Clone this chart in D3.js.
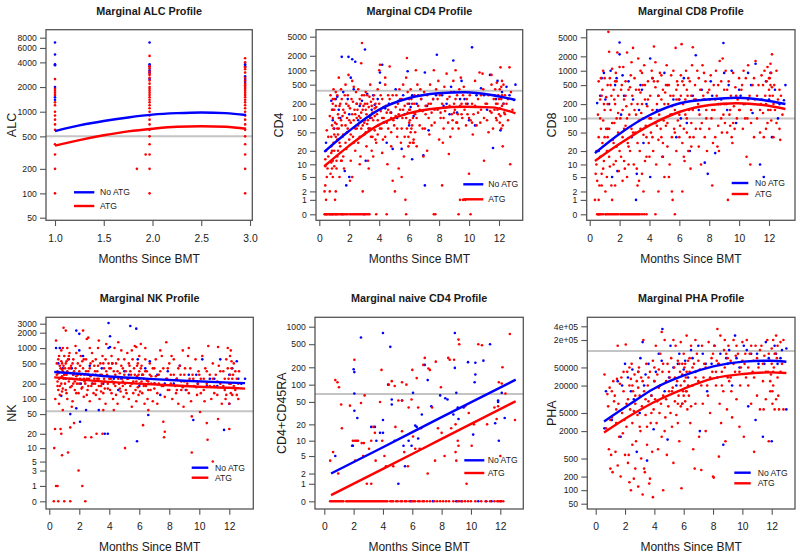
<!DOCTYPE html>
<html><head><meta charset="utf-8">
<script src="https://cdn.jsdelivr.net/npm/d3@7"></script>
<style>body{margin:0;background:#fff}svg{display:block}text{font-family:"Liberation Sans",Arial,Helvetica,sans-serif}</style>
</head><body><svg id="c" width="800" height="556"></svg>
<script>
// ---------- tick definitions ----------
const monthTicks=[0,2,4,6,8,10,12];
const alcXTicks=[1.0,1.5,2.0,2.5,3.0];
const alcYTicks=[50,100,200,500,1000,2000,4000,6000,8000];
const cd4YTicks=[0,1,2,5,10,20,50,100,200,500,1000,2000,5000];
const cd8YTicks=[0,1,2,5,10,20,50,100,200,500,1000,2000,5000];
const nkYTicks=[0,1,3,5,10,20,50,100,200,500,1000,2000,3000];
const naiveYTicks=[0,1,2,5,10,20,50,100,200,500,1000];
const phaYTicks=[50,100,200,500,2000,5000,20000,50000,200000,400000];
const phaYTickLabels=["50","100","200","500","2000","5000","20000","50000","2e+05","4e+05"];
const legendLabels=["No ATG","ATG"];
const titles=["Marginal ALC Profile","Marginal CD4 Profile","Marginal CD8 Profile","Marginal NK Profile","Marginal naive CD4 Profile","Marginal PHA Profile"];
const yLabels=["ALC","CD4","CD8","NK","CD4+CD45RA","PHA"];
const xLabel="Months Since BMT";
const refValues=[500,375,100,57,69,115000];

// ---------- ALC ----------
const alcBlue=[[1.0,7000],[1.0,5000],[1.0,3800],[1.0,3700],[1.0,2000],[1.0,1500],[1.0,1400],
[1.97,7000],[1.97,3800],[1.97,3600],[1.97,3200],[1.97,3000],[1.97,2500],
[2.95,3800],[2.95,3600],[2.95,2700],[2.95,2500],[2.95,2300]];
const alcRed=[[1.0,2500],[1.0,1900],[1.0,1800],[1.0,1700],[1.0,1600],[1.0,1300],[1.0,1200],[1.0,1000],[1.0,900],[1.0,800],[1.0,700],[1.0,600],[1.0,400],[1.0,300],[1.0,200],[1.0,100],
[1.97,4800],[1.97,3600],[1.97,3400],[1.97,3100],[1.97,2900],[1.97,2800],[1.97,2600],[1.97,2400],[1.97,2200],[1.97,2000],[1.97,1900],[1.97,1800],[1.97,1700],[1.97,1600],[1.97,1500],[1.97,1400],[1.97,1300],[1.97,1200],[1.97,1100],[1.97,1000],[1.97,900],[1.97,800],[1.97,700],[1.97,600],[1.97,500],[1.97,400],[1.97,300],[1.97,200],[1.97,100],[1.84,200],[1.93,300],
[2.95,4500],[2.95,4000],[2.95,3500],[2.95,3300],[2.95,3000],[2.95,2600],[2.95,2400],[2.95,2200],[2.95,2100],[2.95,2000],[2.95,1900],[2.95,1800],[2.95,1700],[2.95,1600],[2.95,1500],[2.95,1400],[2.95,1300],[2.95,1200],[2.95,1100],[2.95,1000],[2.95,900],[2.95,800],[2.95,700],[2.95,600],[2.95,500],[2.95,400],[2.95,300],[2.95,200],[2.95,100]];
const alcBlueFit=[[1.0,580],[1.25,680],[1.5,770],[1.75,850],[2.0,920],[2.25,960],[2.5,980],[2.75,960],[2.96,910]];
const alcRedFit=[[1.0,385],[1.25,450],[1.5,515],[1.75,575],[2.0,620],[2.25,655],[2.5,665],[2.75,655],[2.96,620]];

// ---------- CD4 ----------
const cd4Blue=[[0.45,30],[0.8,230],[0.9,90],[1.0,60],[1.1,250],[1.2,280],[1.3,150],[1.5,1900],[1.5,0],[1.6,350],[1.7,7],[1.8,3],[1.95,1900],[2.0,5],[2.0,120],[2.1,700],[2.2,1700],[2.3,400],[2.4,1500],[2.5,200],[2.6,90],[2.85,230],[3.0,0],[3.05,2700],[3.1,12],[3.2,320],[3.3,60],[3.5,150],[3.7,190],[3.9,250],[4.05,900],[4.05,550],[4.2,1300],[4.3,80],[4.5,30],[4.65,200],[4.9,22],[5.1,400],[5.3,230],[5.5,22],[5.7,120],[5.9,950],[6.0,70],[6.1,170],[6.2,13],[6.2,300],[6.5,200],[6.95,16],[7.05,3],[7.05,900],[7.3,55],[7.6,250],[7.85,2100],[8.2,300],[8.5,200],[8.8,450],[8.95,1600],[9.2,130],[9.5,600],[9.7,250],[10.0,90],[10.2,3000],[10.4,70],[10.8,420],[11.0,300],[11.4,800],[11.6,23],[11.9,600],[12.1,55],[12.2,350],[12.5,450],[13.1,500],[13.0,240]];
const cd4BlueMore=[[0.9,150],[1.4,100],[1.9,250],[2.7,180],[3.4,100],[3.6,300],[4.4,160],[4.8,130],[5.2,100],[5.6,300],[6.0,200],[6.3,110],[6.8,250],[7.2,180],[7.8,300],[8.3,180],[8.7,120],[9.0,350],[9.4,250],[9.9,200],[10.5,300],[11.2,150],[11.8,250],[12.3,200],[12.7,300]];
const cd4Red=[[0.35,0],[0.4,0],[0.45,0],[0.5,0],[0.55,0],[0.35,2],[0.4,3],[0.45,1],[0.5,5],[0.4,13],[0.45,20],[0.5,55],[0.55,8],[0.6,40],[0.4,9],[0.6,15],
[0.65,0],[0.7,0],[0.75,0],[0.8,0],[0.85,0],[0.9,0],[0.95,0],[0.7,2],[0.75,6],[0.8,11],[0.8,25],[0.85,70],[0.85,150],[0.9,200],[0.9,5],[0.95,30],[0.7,110],[0.75,300],[0.8,18],[0.9,12],[0.95,400],[1.0,9],[1.0,45],[1.0,250],
[1.05,0],[1.1,0],[1.15,0],[1.2,0],[1.3,0],[1.4,0],[1.05,1],[1.1,2],[1.15,8],[1.2,15],[1.2,35],[1.25,120],[1.3,700],[1.3,60],[1.35,180],[1.35,5],[1.4,25],[1.45,90],[1.45,400],[1.5,12],[1.5,250],[1.1,350],[1.15,75],[1.25,20],
[1.55,0],[1.6,0],[1.7,0],[1.8,0],[1.9,0],[1.55,40],[1.6,150],[1.65,8],[1.7,300],[1.75,500],[1.8,22],[1.85,100],[1.9,60],[1.95,800],[1.95,180],[2.0,35],[1.6,15],[1.75,70],
[2.05,0],[2.15,0],[2.25,0],[2.35,0],[2.45,0],[2.05,4],[2.1,12],[2.15,250],[2.2,600],[2.25,40],[2.3,90],[2.35,150],[2.4,20],[2.45,350],[2.5,60],[2.2,5],[2.3,450],[2.4,120],[2.1,80],[2.5,200],
[2.55,0],[2.65,0],[2.75,0],[2.85,0],[2.95,0],[2.6,30],[2.65,110],[2.7,250],[2.75,15],[2.8,1400],[2.85,3700],[2.9,2],[2.9,70],[2.95,180],[3.0,45],[2.6,400],[2.7,10],[2.8,130],[3.0,300],[2.75,200],
[3.05,0],[3.15,0],[3.25,0],[3.35,0],[3.05,90],[3.1,150],[3.15,25],[3.2,200],[3.25,12],[3.3,60],[3.35,280],[3.4,110],[3.45,40],[3.5,180],[3.1,350],[3.2,75],[3.3,8],[3.4,500],[3.5,20],
[3.8,0],[3.55,130],[3.6,90],[3.65,300],[3.7,55],[3.75,200],[3.8,30],[3.85,120],[3.9,400],[3.95,70],[4.0,1000],[3.6,15],[3.7,160],[3.9,45],
[4.5,0],[4.05,1300],[4.1,140],[4.15,60],[4.2,250],[4.25,35],[4.3,100],[4.4,500],[4.45,180],[4.5,80],[4.55,10],[4.6,300],[4.7,1200],[4.75,130],[4.8,50],[4.85,200],[4.9,4],[4.95,90],[4.2,18],[4.4,700],[4.6,150],[4.8,25],
[5.8,0],[5.05,2],[5.1,110],[5.15,300],[5.2,60],[5.3,8],[5.35,400],[5.4,150],[5.45,30],[5.5,250],[5.55,100],[5.6,500],[5.65,15],[5.7,180],[5.75,1],[5.8,700],[5.85,1800],[5.9,130],[5.95,40],[6.0,250],[5.25,200],[5.5,5],[5.9,350],[6.0,80],
[6.05,30],[6.05,150],[6.1,400],[6.15,60],[6.2,200],[6.25,100],[6.3,35],[6.35,300],[6.4,120],[6.5,25],[6.55,500],[6.6,180],[6.7,70],[6.8,250],[6.9,140],[6.95,15],[7.0,350],[6.3,30],[6.45,1000],[6.75,400],
[7.65,0],[7.75,0],[7.05,60],[7.1,180],[7.2,300],[7.3,100],[7.35,45],[7.4,500],[7.5,130],[7.6,250],[7.65,1000],[7.7,80],[7.8,400],[7.9,150],[8.0,35],[7.2,20],[7.45,200],[7.95,600],
[8.05,300],[8.1,100],[8.2,3],[8.2,200],[8.3,60],[8.35,450],[8.4,140],[8.5,850],[8.55,250],[8.6,80],[8.65,17],[8.7,180],[8.8,350],[8.85,120],[8.9,60],[8.95,600],[9.0,200],[8.25,30],[8.75,40],
[9.3,0],[9.05,150],[9.1,1000],[9.15,80],[9.2,300],[9.25,120],[9.3,60],[9.35,400],[9.4,1],[9.5,200],[9.55,100],[9.6,1],[9.65,450],[9.7,150],[9.8,70],[9.85,250],[9.9,120],[10.0,6],[9.45,700],[9.75,1],
[10.1,0],[10.05,300],[10.1,90],[10.2,200],[10.3,120],[10.4,600],[10.5,70],[10.6,250],[10.7,900],[10.8,150],[10.9,850],[11.0,12],[10.25,45],[10.75,80],[10.95,400],
[11.1,200],[11.2,90],[11.3,300],[11.4,140],[11.5,500],[11.6,60],[11.65,250],[11.7,150],[11.75,400],[11.8,100],[11.85,550],[11.9,200],[11.95,300],[12.0,120],[11.5,800],[11.3,50],
[12.05,400],[12.1,1150],[12.15,250],[12.2,180],[12.25,25],[12.3,500],[12.35,130],[12.4,300],[12.5,200],[12.6,90],[12.7,1150],[12.75,10],[12.8,350],[12.05,80],[12.2,600],[12.15,60]];
const cd4RedMore=[[0.8,40],[0.85,20],[0.9,100],[0.95,60],[0.85,8],[0.9,250],[1.0,150],[1.0,20],[1.05,80],[1.1,40],[1.1,180],[1.15,12],[1.2,60],[1.2,300],[1.25,45],[1.3,100],[1.35,30],[1.4,200],[1.45,12],[1.5,70],[1.55,110],[1.6,45],[1.7,130],[1.75,30],[1.8,200],[1.85,50],[1.9,300],[2.0,90],[2.05,160],[2.1,45],[2.2,120],[2.25,220],[2.3,30],[2.4,60],[2.5,100],[2.55,150],[2.6,70],[2.7,40],[2.75,100],[2.8,60],[2.85,300],[2.9,150],[3.0,80],[3.05,200],[3.1,50],[3.15,120],[3.2,300],[3.25,90],[3.3,170],[3.4,60],[3.45,220],[3.5,100],[3.55,40],[3.6,250],[3.7,110],[3.75,35],[3.8,170],[3.9,90],[4.0,200],[4.05,60],[4.1,300],[4.2,100],[4.3,170],[4.4,40],[4.5,130],[4.6,60],[4.7,250],[4.8,100],[4.9,300],[5.0,70],[5.1,170],[5.2,40],[5.3,120],[5.4,250],[5.5,60],[5.6,150],[5.7,40],[5.8,100],[5.85,60],[5.9,200],[5.95,25],[6.0,150],[6.05,90],[6.1,50],[6.15,250],[6.2,70],[6.25,30],[6.3,130],[6.35,200],[6.4,50],[6.5,100],[6.6,300],[6.7,150],[6.9,60],[7.1,120],[7.3,200],[7.5,70],[7.7,150],[7.9,250],[8.1,130],[8.3,100],[8.5,170],[8.7,280],[8.9,90],[9.0,130],[9.1,250],[9.2,80],[9.4,180],[9.5,120],[9.6,300],[9.8,200],[10.0,100],[10.2,80],[10.4,180],[10.6,130],[10.8,300],[11.0,100],[11.2,200],[11.5,130],[11.7,300],[11.8,200],[11.85,90],[11.9,150],[12.0,250],[12.05,160],[12.1,110],[12.15,450],[12.2,300],[12.25,70],[12.3,200],[12.4,120],[12.6,250],[12.9,150]];
const cd4BlueFit=[[0.33,19],[1.94,52],[3.94,147],[5.95,260],[7.95,330],[9.73,347],[11.5,305],[13.1,240]];
const cd4RedFit=[[0.33,9],[1.94,25],[3.94,71],[5.95,126],[7.95,161],[9.73,173],[11.5,168],[13.1,126]];

// ---------- CD8 ----------
const cd8Blue=[[0.5,210],[0.6,20],[0.8,700],[0.95,900],[1.05,250],[1.2,60],[1.3,200],[1.5,5],[1.7,500],[1.8,700],[1.85,7],[2.0,3900],[2.0,2200],[2.1,120],[2.3,300],[2.6,600],[2.8,40],[3.1,1],[3.15,6],[3.3,150],[3.5,400],[3.6,30],[3.8,200],[4.05,1800],[4.05,5],[4.2,700],[4.4,80],[4.6,300],[4.9,15],[5.2,500],[5.5,120],[5.8,40],[6.0,250],[6.3,700],[6.5,80],[6.7,20],[7.1,2100],[7.3,150],[7.5,400],[7.7,11],[7.9,6],[8.2,300],[8.4,18],[8.6,200],[8.95,3800],[9.0,900],[9.2,150],[9.5,1000],[9.8,80],[10.0,400],[10.3,200],[10.6,900],[10.9,130],[11.1,1400],[11.4,10],[11.65,5],[11.8,600],[12.0,250],[12.2,40],[12.4,400],[12.7,200],[13.1,500],[13.0,240]];
const cd8BlueMore=[[0.7,300],[1.4,1000],[2.2,800],[2.9,250],[3.4,500],[4.5,150],[5.0,900],[5.6,250],[6.1,100],[6.9,300],[7.7,250],[8.1,600],[8.8,250],[9.3,500],[10.1,300],[10.8,500],[11.5,250],[12.1,900],[12.6,100]];
const cd8Red=[[0.35,1],[0.4,6],[0.45,20],[0.5,0],[0.55,0],[0.6,0],[0.65,0],[0.7,0],[0.8,0],[0.9,0],[0.5,4],[0.55,120],[0.6,600],[0.65,3],[0.7,15],[0.7,250],[0.75,60],[0.8,6],[0.85,400],[0.85,30],[0.9,1000],[0.9,90],[0.95,12],[0.95,200],[1.0,40],[0.45,10],[0.6,1],[0.8,3],[0.75,700],
[1.05,0],[1.1,0],[1.2,0],[1.3,0],[1.4,0],[1.5,0],[1.6,0],[1.7,0],[1.8,0],[1.9,0],[1.05,2],[1.1,280],[1.15,20],[1.2,500],[1.25,6500],[1.3,60],[1.3,2500],[1.35,9],[1.4,150],[1.45,300],[1.5,1],[1.5,1100],[1.55,35],[1.6,400],[1.65,80],[1.7,3],[1.7,200],[1.75,12],[1.8,600],[1.85,2400],[1.9,50],[1.9,130],[1.95,7],[2.0,1200],[1.2,40],[1.35,700],[1.6,10],[1.8,25],[1.45,3],[1.15,5],[1.65,250],[1.75,900],
[2.05,0],[2.15,0],[2.25,0],[2.35,0],[2.45,0],[2.55,0],[2.65,0],[2.75,0],[2.85,0],[2.95,0],[2.05,100],[2.1,15],[2.15,500],[2.2,40],[2.25,1200],[2.3,250],[2.35,8],[2.4,70],[2.45,180],[2.5,2400],[2.55,30],[2.6,400],[2.65,120],[2.7,20],[2.75,800],[2.8,60],[2.85,300],[2.9,3000],[2.95,10],[3.0,150],[2.2,4],[2.4,600],[2.6,25],[2.8,1500],[2.5,5],[2.3,12],
[3.05,0],[3.15,0],[3.25,0],[3.35,0],[3.5,0],[3.65,0],[3.8,0],[3.05,50],[3.1,400],[3.15,8],[3.2,200],[3.25,1800],[3.3,90],[3.35,20],[3.4,350],[3.45,130],[3.5,6],[3.55,500],[3.6,45],[3.65,1300],[3.7,250],[3.75,70],[3.8,15],[3.85,180],[3.9,600],[3.95,30],[4.0,100],[3.3,4],[3.5,900],[3.7,12],[3.4,1000],[3.6,2],[3.2,3],
[4.4,0],[4.05,300],[4.1,50],[4.15,1000],[4.2,150],[4.25,20],[4.3,3200],[4.35,80],[4.4,450],[4.45,10],[4.5,200],[4.55,600],[4.6,35],[4.65,120],[4.7,900],[4.75,60],[4.8,250],[4.85,15],[4.9,400],[4.95,90],[5.0,5],[4.2,700],[4.6,2],[4.8,40],[4.4,1500],
[5.7,0],[5.05,350],[5.1,70],[5.15,1300],[5.2,25],[5.25,200],[5.3,500],[5.35,10],[5.4,120],[5.45,800],[5.5,40],[5.55,1],[5.6,300],[5.65,60],[5.7,150],[5.75,3000],[5.8,20],[5.85,600],[5.9,90],[5.95,250],[6.0,40],[5.3,5],[5.6,1000],[5.8,400],[5.5,2],
[6.05,70],[6.1,800],[6.15,3600],[6.2,30],[6.25,200],[6.3,500],[6.35,12],[6.4,120],[6.45,1000],[6.5,50],[6.55,300],[6.6,20],[6.65,150],[6.7,600],[6.75,8],[6.8,80],[6.85,1300],[6.9,3100],[6.95,40],[7.0,250],[6.2,2],[6.5,400],[6.8,25],[6.3,60],
[7.05,500],[7.1,60],[7.2,1000],[7.25,200],[7.3,25],[7.35,120],[7.4,400],[7.5,80],[7.55,1300],[7.6,250],[7.7,40],[7.75,600],[7.8,150],[7.85,20],[7.9,350],[8.0,60],[7.45,10],[7.65,900],
[8.05,250],[8.1,800],[8.15,100],[8.2,3],[8.25,30],[8.3,500],[8.35,150],[8.4,40],[8.45,1000],[8.5,300],[8.6,70],[8.65,20],[8.7,1600],[8.75,200],[8.8,600],[8.85,50],[8.9,1800],[8.95,120],[9.0,400],[8.55,25],
[9.05,80],[9.1,1000],[9.15,200],[9.2,50],[9.25,1],[9.3,600],[9.35,120],[9.4,70],[9.45,300],[9.5,40],[9.6,900],[9.65,180],[9.7,60],[9.75,450],[9.85,100],[9.9,250],[10.0,700],[9.55,30],
[10.05,150],[10.15,400],[10.25,60],[10.3,1000],[10.4,200],[10.5,15],[10.55,100],[10.6,1300],[10.7,300],[10.8,80],[10.9,500],[11.0,40],[10.45,700],[10.75,10],
[11.05,250],[11.1,1600],[11.2,100],[11.3,500],[11.4,50],[11.45,200],[11.5,800],[11.6,130],[11.7,1000],[11.75,300],[11.8,60],[11.85,600],[11.9,1200],[11.95,150],[12.0,400],[11.65,40],
[12.05,700],[12.1,1400],[12.15,90],[12.2,2200],[12.25,300],[12.3,40],[12.35,500],[12.4,150],[12.5,1000],[12.6,250],[12.7,60],[12.75,35],[12.8,300],[12.9,120],[12.1,500]];
const cd8RedMore=[[0.6,40],[0.7,100],[0.8,300],[0.9,8],[1.0,150],[1.0,700],[1.1,60],[1.2,200],[1.3,15],[1.4,500],[1.5,80],[1.6,30],[1.7,600],[1.8,100],[1.9,300],[2.0,20],[2.1,400],[2.2,150],[2.3,60],[2.4,300],[2.5,100],[2.6,10],[2.7,450],[2.8,200],[2.9,50],[3.0,700],[3.1,120],[3.2,30],[3.3,400],[3.4,60],[3.5,200],[3.6,100],[3.7,500],[3.8,40],[3.9,250],[4.0,15],[4.1,100],[4.2,40],[4.3,600],[4.5,70],[4.6,300],[4.7,150],[4.8,800],[4.9,30],[5.0,200],[5.1,500],[5.2,80],[5.4,300],[5.5,180],[5.7,50],[5.8,250],[5.9,500],[6.0,120],[6.1,300],[6.2,600],[6.3,15],[6.4,250],[6.5,100],[6.6,700],[6.7,40],[6.8,300],[6.9,150],[7.1,250],[7.3,700],[7.4,60],[7.6,300],[7.8,100],[8.0,400],[8.2,150],[8.4,250],[8.6,500],[8.8,100],[9.0,200],[9.2,400],[9.4,150],[9.6,80],[9.8,300],[10.0,150],[10.2,500],[10.4,100],[10.6,250],[10.8,150],[11.0,700],[11.2,300],[11.4,150],[11.6,500],[11.8,200],[11.9,80],[12.0,700],[12.05,300],[12.1,150],[12.15,900],[12.2,450],[12.3,200],[12.5,80],[12.7,400]];
const cd8BlueFit=[[0.35,18],[2.03,48],[4.03,118],[6.04,208],[8.05,252],[9.84,272],[11.6,244],[13.1,201]];
const cd8RedFit=[[0.35,12],[2.03,29],[4.03,72],[6.04,138],[8.05,191],[9.84,208],[11.6,191],[13.1,158]];

// ---------- NK ----------
const nkBlue=[[0.45,1000],[0.7,1000],[0.8,115],[0.9,400],[1.1,250],[1.3,600],[1.4,50],[1.6,300],[1.8,2200],[1.8,65],[2.0,1900],[2.0,900],[2.05,35],[2.25,700],[2.45,60],[2.6,300],[2.9,200],[3.3,60],[3.5,400],[3.7,20],[3.9,20],[3.95,3100],[3.95,1000],[4.05,1700],[4.05,1050],[4.3,250],[4.6,150],[5.0,350],[5.4,2700],[5.8,2400],[5.85,14],[5.9,600],[6.2,300],[6.6,48],[6.7,550],[7.0,200],[7.4,120],[7.9,350],[8.3,200],[8.7,450],[9.1,150],[9.6,38],[9.8,300],[10.2,600],[10.5,180],[11.0,250],[11.4,600],[11.65,24],[12.0,80],[12.2,400],[12.5,550],[13.05,250],[12.8,200]];
const nkBlueMore=[[0.6,500],[1.0,300],[1.5,400],[2.1,200],[2.7,450],[3.1,300],[3.6,200],[4.2,500],[4.8,250],[5.3,300],[6.0,180],[6.4,400],[7.2,300],[7.7,200],[8.5,250],[9.3,300],[9.9,200],[10.7,250],[11.2,180],[12.0,300],[12.6,250]];
const nkRed=[[0.33,10],[0.38,25],[0.45,1],[0.55,1],[0.3,0],[0.6,0],[0.4,100],[0.45,1400],[0.5,300],[0.55,180],[0.6,600],[0.65,250],[0.7,120],[0.75,25],[0.75,400],[0.8,20],[0.8,900],[0.8,200],[0.85,7],[0.85,500],[0.85,140],[0.9,350],[0.9,60],[0.95,2500],[0.95,250],[1.0,0],[1.0,700],[0.7,450],[0.65,80],[0.9,1000],[0.55,350],[0.6,150],[0.85,280],
[1.05,400],[1.1,2200],[1.1,150],[1.15,300],[1.2,100],[1.25,8],[1.25,600],[1.3,220],[1.35,800],[1.4,27],[1.4,0],[1.4,170],[1.45,450],[1.5,250],[1.55,90],[1.6,600],[1.65,33],[1.65,350],[1.7,150],[1.75,1100],[1.8,280],[1.85,200],[1.9,500],[1.95,3],[1.95,130],[2.0,350],[1.2,1000],[1.5,70],[1.8,800],[1.3,400],[1.6,200],[1.15,550],
[2.05,250],[2.1,700],[2.15,160],[2.2,1],[2.25,2200],[2.25,400],[2.3,110],[2.35,300],[2.4,0],[2.4,17],[2.4,200],[2.45,600],[2.5,1500],[2.55,150],[2.6,1600],[2.6,350],[2.65,250],[2.7,90],[2.75,500],[2.8,17],[2.8,180],[2.85,800],[2.9,300],[2.95,130],[3.0,450],[2.2,550],[2.5,120],[2.7,1000],[2.3,250],
[3.05,200],[3.1,600],[3.15,20],[3.15,150],[3.2,350],[3.25,1000],[3.3,250],[3.35,100],[3.4,500],[3.45,180],[3.5,300],[3.55,20],[3.55,700],[3.6,130],[3.65,400],[3.7,220],[3.75,80],[3.8,1200],[3.85,300],[3.9,160],[3.95,500],[4.0,250],[3.3,1400],[3.6,60],[3.75,600],
[4.05,150],[4.1,400],[4.15,700],[4.2,220],[4.25,100],[4.3,350],[4.35,1000],[4.4,180],[4.45,500],[4.5,270],[4.55,80],[4.6,600],[4.65,200],[4.7,320],[4.75,140],[4.8,900],[4.85,250],[4.9,400],[4.95,110],[5.0,600],[4.3,60],[4.6,1300],[4.9,180],
[5.05,10],[5.05,200],[5.1,350],[5.15,130],[5.2,800],[5.25,250],[5.3,100],[5.35,450],[5.4,180],[5.45,300],[5.5,70],[5.55,600],[5.6,220],[5.65,400],[5.7,1100],[5.75,150],[5.8,1050],[5.85,280],[5.9,500],[5.95,120],[6.0,350],[5.5,900],[5.8,90],[6.0,700],
[6.05,200],[6.1,1200],[6.15,450],[6.2,130],[6.25,30],[6.25,300],[6.3,250],[6.35,80],[6.4,600],[6.45,180],[6.5,350],[6.55,100],[6.6,220],[6.7,500],[6.75,150],[6.8,280],[6.9,90],[7.0,400],[6.4,1000],[6.6,60],
[7.05,200],[7.1,600],[7.2,130],[7.3,300],[7.4,900],[7.5,180],[7.6,35],[7.65,17],[7.7,22],[7.6,400],[7.7,110],[7.8,1300],[7.85,250],[7.9,150],[8.0,500],[7.2,80],[7.5,700],
[8.1,300],[8.2,100],[8.3,600],[8.4,180],[8.5,250],[8.6,80],[8.7,450],[8.8,150],[8.9,900],[9.0,220],[8.15,700],[8.45,130],[8.75,300],[8.95,70],
[9.05,400],[9.15,150],[9.25,700],[9.35,250],[9.45,90],[9.5,45],[9.5,8],[9.55,300],[9.65,180],[9.75,600],[9.85,120],[9.95,350],[10.05,55],[9.3,1000],[9.9,200],
[10.1,250],[10.2,700],[10.3,150],[10.4,400],[10.5,33],[10.55,15],[10.5,200],[10.6,1100],[10.7,300],[10.8,100],[10.9,5],[10.9,500],[11.0,180],[10.35,90],
[11.1,300],[11.2,120],[11.25,1050],[11.25,40],[11.3,450],[11.4,200],[11.5,80],[11.6,350],[11.7,150],[11.8,600],[11.9,1000],[11.95,250],[12.0,25],[11.75,100],
[12.05,700],[12.1,200],[12.15,400],[12.2,120],[12.25,300],[12.3,500],[12.4,150],[12.5,250],[12.6,100],[12.65,350],[12.0,80],[12.1,900]];
const nkRedMore=[[0.5,500],[0.55,220],[0.6,320],[0.65,700],[0.7,180],[0.75,260],[0.8,550],[0.85,380],[0.9,160],[0.95,450],[1.0,300],[1.05,200],[1.1,500],[1.15,130],[1.2,350],[1.3,700],[1.35,250],[1.4,400],[1.5,180],[1.55,500],[1.6,300],[1.7,220],[1.75,400],[1.8,130],[1.9,300],[2.0,200],[2.05,450],[2.1,300],[2.2,170],[2.3,600],[2.35,220],[2.45,350],[2.5,250],[2.6,180],[2.7,400],[2.75,280],[2.85,200],[2.9,550],[3.0,250],[3.05,350],[3.1,120],[3.2,250],[3.25,450],[3.3,180],[3.4,300],[3.45,140],[3.5,200],[3.6,500],[3.65,250],[3.7,160],[3.8,350],[3.9,200],[4.0,400],[4.1,250],[4.15,130],[4.2,500],[4.3,200],[4.4,300],[4.45,120],[4.55,350],[4.6,250],[4.7,160],[4.8,450],[4.9,220],[5.0,300],[5.1,150],[5.2,250],[5.3,500],[5.4,350],[5.5,200],[5.6,130],[5.7,300],[5.8,220],[5.85,450],[5.9,170],[5.95,300],[6.0,250],[6.05,140],[6.1,400],[6.15,220],[6.2,300],[6.3,180],[6.4,350],[6.5,230],[6.6,150],[6.7,300],[6.8,200],[6.9,400],[7.0,160],[7.1,280],[7.3,200],[7.4,350],[7.6,180],[7.8,250],[7.9,400],[8.0,150],[8.1,200],[8.3,300],[8.5,150],[8.6,400],[8.8,220],[8.9,170],[9.0,300],[9.2,200],[9.3,130],[9.4,400],[9.6,250],[9.8,170],[10.0,300],[10.1,130],[10.3,250],[10.5,350],[10.7,180],[10.9,250],[11.0,130],[11.2,220],[11.4,350],[11.6,180],[11.7,250],[11.8,120],[11.9,400],[12.0,200],[12.05,300],[12.1,130],[12.15,550],[12.2,250],[12.3,180],[12.4,350],[12.5,120],[12.6,200]];
const nkBlueFit=[[0.33,340],[2,314],[4,276],[6,255],[9,228],[12,210],[13.05,205]];
const nkRedFit=[[0.33,267],[2,242],[4,217],[6,200],[8,186],[10,174],[12,166],[13.05,160]];

// ---------- naive CD4 ----------
const naiveBlue=[[0.75,5],[2.0,185],[2.05,165],[2.05,70],[2.05,35],[1.95,8],[1.9,8],[2.25,26],[2.5,650],[3.2,18],[3.45,18],[3.55,10],[3.8,14],[4.0,14],[4.0,24],[4.0,780],[4.35,100],[4.5,450],[4.6,55],[4.6,45],[4.8,10],[5.05,1],[5.3,53],[5.4,8],[5.5,3],[5.75,10],[5.95,8],[6.05,72],[6.2,19],[6.3,18],[6.4,11],[6.65,30],[6.85,220],[7.05,120],[7.3,42],[7.9,65],[8.25,58],[8.4,55],[8.8,30],[8.9,195],[8.9,780],[9.0,72],[9.1,40],[9.15,25],[9.5,40],[9.8,245],[10.15,13],[10.25,110],[10.3,240],[10.3,150],[10.85,260],[11.3,500],[11.65,21],[11.85,50],[11.85,53],[11.9,10],[12.1,72],[12.3,26],
[7.4,0],[9.0,0],[9.35,0],[10.5,0],[11.05,0],[11.4,0],[12.05,0],[5.9,0]];
const naiveRed=[[0.4,4],[0.6,6],[0.75,120],[0.9,110],[1.0,90],[0.95,2],[1.15,45],[1.2,17],[1.75,43],[1.95,10],[2.05,270],[2.1,10],[2.1,4],[2.2,10],[2.3,10],[2.5,48],[2.55,9],[2.7,9],[2.75,65],[2.65,5],[2.9,1],[3.2,1],[3.05,7],[3.2,10],[3.35,18],[3.45,14],[3.5,4],[3.8,50],[3.9,180],[3.95,10],[4.1,5],[4.2,3],[4.4,100],[4.6,115],[4.7,3],[4.8,95],[4.85,18],[5.05,53],[5.3,110],[5.3,53],[5.3,15],[5.45,6],[5.6,100],[5.7,3],[5.75,40],[5.95,55],[6.0,180],[6.05,12],[6.2,7],[6.3,130],[6.4,40],[6.5,7],[6.6,17],[6.75,220],[6.85,290],[7.05,2],[7.1,190],[7.2,180],[7.35,40],[7.6,250],[7.55,4],[7.75,17],[7.95,90],[8.0,14],[8.2,5],[8.45,290],[8.55,270],[8.65,17],[8.85,270],[8.95,20],[8.95,6],[9.0,4],[9.1,10],[9.15,8],[9.15,600],[9.2,500],[9.6,42],[9.7,1],[9.85,32],[10.05,8],[10.2,20],[10.5,500],[10.75,480],[11.1,20],[11.6,40],[11.75,25],[11.85,42],[11.9,110],[12.0,5],[12.1,105],[12.15,200],[12.65,750],[13.0,24],[12.35,70],
[0.4,0],[0.5,0],[0.6,0],[0.7,0],[0.8,0],[0.9,0],[1.0,0],[1.1,0],[1.2,0],[1.3,0],[1.5,0],[1.6,0],[1.7,0],[1.8,0],[1.9,0],[2.0,0],[2.1,0],[2.2,0],[2.3,0],[2.4,0],[2.5,0],[2.6,0],[2.7,0],[2.8,0],[2.9,0],[3.0,0],[3.1,0],[3.2,0],[3.3,0],[3.4,0],[3.5,0],[3.6,0],[3.7,0],[3.8,0],[3.9,0],[4.0,0],[4.1,0],[4.2,0],[4.3,0],[4.5,0],[4.6,0],[4.7,0],[4.9,0],[5.0,0],[5.2,0],[5.3,0],[5.5,0],[5.6,0],[5.8,0],[6.0,0],[6.1,0],[6.2,0],[6.4,0],[6.5,0],[6.7,0],[6.8,0],[7.0,0],[7.2,0],[7.5,0],[7.7,0],[7.9,0],[8.1,0],[8.3,0],[8.5,0],[8.8,0],[9.1,0],[9.2,0],[9.4,0],[9.6,0],[9.8,0],[10.0,0],[10.3,0],[10.7,0],[11.0,0],[11.3,0],[11.6,0],[11.8,0],[11.9,0],[12.0,0],[12.2,0]];
const naiveBlueFit=[[0.46,2],[4,7.5],[8,27],[13.05,122]];
const naiveRedFit=[[0.46,0.28],[4,2.6],[8,10.8],[13.05,51.5]];

// ---------- PHA ----------
const phaBlue=[[0.6,2300],[0.7,15000],[1.1,3500],[1.5,25000],[1.7,1500],[2.0,60000],[2.2,30000],[2.5,45000],[2.6,10000],[2.8,700],[3.0,5000],[3.05,80000],[3.2,180000],[3.3,20000],[3.5,450],[3.6,60000],[3.8,12000],[3.95,2200],[4.1,40000],[4.3,100000],[4.55,350000],[4.7,15000],[4.9,1300],[5.1,150000],[5.3,50000],[5.5,20000],[5.7,100000],[5.9,8000],[6.1,70000],[6.3,30000],[6.5,120000],[6.8,40000],[7.1,2000],[7.3,100000],[7.6,15000],[7.9,60000],[8.1,150000],[8.3,30000],[8.7,1000],[8.9,80000],[9.1,120000],[9.3,20000],[9.5,250000],[9.8,50000],[10.1,150000],[10.4,7000],[10.6,100000],[10.9,3500],[11.1,60000],[11.4,1500],[11.6,180000],[11.8,80000],[12.0,1200],[12.2,150000],[12.4,60000],[12.7,120000],[13.0,6000],[13.0,130000]];
const phaBlueMore=[[1.8,20000],[2.4,15000],[2.9,40000],[3.4,35000],[4.0,25000],[4.5,70000],[5.0,30000],[5.6,60000],[6.0,45000],[6.6,80000],[7.0,150000],[7.5,60000],[8.5,100000],[9.0,60000],[9.6,80000],[10.3,120000],[11.0,100000],[11.5,60000],[12.3,100000],[12.6,80000]];
const phaRed=[[0.6,35000],[0.7,2300],[0.8,13000],[0.9,800],[1.0,3500],[1.0,300],[0.85,7000],[0.95,18000],
[1.05,600],[1.1,4000],[1.15,250],[1.2,25000],[1.3,12000],[1.35,700],[1.4,3000],[1.5,150000],[1.5,350],[1.55,8000],[1.6,1500],[1.7,200],[1.75,30000],[1.8,5000],[1.85,1800],[1.9,15000],[2.0,600],[1.25,9000],[1.65,22000],[1.95,3500],[1.45,28000],
[2.05,160000],[2.1,2500],[2.15,40000],[2.2,400],[2.2,10000],[2.3,150],[2.3,20000],[2.35,6000],[2.4,100],[2.45,60000],[2.5,3000],[2.55,15000],[2.6,180],[2.65,35000],[2.7,8000],[2.75,1200],[2.8,25000],[2.85,4500],[2.9,120],[2.95,50000],[3.0,12000],[2.25,600],[2.5,1000],[2.7,300],[2.4,28000],[2.6,5500],[2.9,18000],
[3.05,2000],[3.1,30000],[3.15,7000],[3.2,80],[3.25,200000],[3.3,15000],[3.35,250],[3.4,4500],[3.45,60000],[3.5,1000],[3.55,20000],[3.6,9000],[3.65,140],[3.7,40000],[3.75,3000],[3.8,12000],[3.85,700],[3.9,70000],[3.95,6000],[4.0,25000],[3.1,500],[3.3,300],[3.5,2500],[3.7,180],[3.9,70],
[4.05,10000],[4.1,150000],[4.15,3000],[4.2,35000],[4.25,800],[4.3,18000],[4.35,5000],[4.4,100000],[4.45,8000],[4.5,1500],[4.55,40000],[4.6,100],[4.6,12000],[4.7,200000],[4.75,4000],[4.8,25000],[4.85,600],[4.9,60000],[4.95,7000],[5.0,15000],[4.3,45000],[4.7,2000],[4.5,300000],
[5.05,30000],[5.1,5000],[5.15,80000],[5.2,2500],[5.25,18000],[5.3,400],[5.35,50000],[5.4,9000],[5.45,150000],[5.5,4500],[5.55,25000],[5.6,70000],[5.65,12000],[5.7,1200],[5.75,40000],[5.8,7000],[5.85,110],[5.9,60000],[5.95,15000],[6.0,100000],[5.3,200000],[5.6,3000],[5.9,8000],[5.8,180000],
[6.05,50000],[6.1,9000],[6.15,30000],[6.2,250000],[6.25,6000],[6.3,70000],[6.35,12000],[6.4,40000],[6.45,3000],[6.5,150000],[6.6,20000],[6.65,800],[6.7,60000],[6.75,300],[6.8,8000],[6.9,100000],[7.0,25000],[6.2,15000],[6.5,7000],[6.8,200000],
[7.05,1500],[7.1,45000],[7.2,280],[7.25,150000],[7.3,8000],[7.4,60000],[7.5,2000],[7.6,20000],[7.7,180000],[7.8,5000],[7.9,80000],[8.0,200],[7.35,30000],[7.65,12000],[7.95,40000],
[8.05,190],[8.1,150000],[8.2,20000],[8.3,350000],[8.35,60000],[8.4,550],[8.45,8000],[8.5,250000],[8.6,40000],[8.7,15000],[8.8,200000],[8.85,1200],[8.9,100000],[9.0,30000],[8.25,70000],[8.55,3000],[8.75,120000],[8.95,6000],
[9.05,150000],[9.1,25000],[9.2,70000],[9.3,4000],[9.4,200000],[9.5,40000],[9.6,10000],[9.7,100000],[9.8,2500],[9.9,50000],[10.0,180000],[9.25,15000],[9.55,90000],[9.85,20000],
[10.1,1500],[10.15,60000],[10.3,200000],[10.4,20000],[10.5,100000],[10.6,8000],[10.7,40000],[10.8,700],[10.9,150000],[11.0,12000],[10.25,30000],[10.75,70000],
[11.1,50000],[11.2,6000],[11.3,150000],[11.4,25000],[11.5,90000],[11.6,10000],[11.7,200000],[11.75,40000],[11.8,1200],[11.85,70000],[11.9,15000],[12.0,130000],[11.45,6000],[11.95,35000],
[12.05,8000],[12.1,200000],[12.15,50000],[12.2,6000],[12.25,100000],[12.3,250000],[12.4,30000],[12.5,6000],[12.6,180000],[12.7,60000],[12.8,6000],[12.1,20000],[12.35,80000],[12.45,12000]];
const phaRedMore=[[1.1,15000],[1.4,6000],[1.9,40000],[2.1,8000],[2.3,50000],[2.5,20000],[2.7,12000],[2.9,40000],[3.0,2500],[3.2,25000],[3.4,10000],[3.6,30000],[3.8,5000],[4.0,50000],[4.2,9000],[4.4,20000],[4.6,60000],[4.8,10000],[5.0,40000],[5.2,15000],[5.4,30000],[5.6,8000],[5.7,60000],[5.8,20000],[5.9,35000],[6.0,12000],[6.05,25000],[6.1,60000],[6.15,15000],[6.2,40000],[6.3,20000],[6.4,80000],[6.6,50000],[6.8,30000],[7.0,70000],[7.2,20000],[7.5,50000],[7.8,30000],[8.0,100000],[8.2,40000],[8.4,60000],[8.6,20000],[8.8,50000],[9.0,80000],[9.2,30000],[9.4,60000],[9.6,150000],[9.8,40000],[10.0,70000],[10.2,100000],[10.4,50000],[10.6,150000],[10.8,30000],[11.0,80000],[11.2,120000],[11.4,60000],[11.6,40000],[11.8,100000],[11.9,25000],[12.0,60000],[12.05,15000],[12.1,40000],[12.2,100000],[12.3,10000],[12.4,150000],[12.6,40000],[12.8,200000]];
const phaBlueFit=[[0.57,3250],[2.34,7850],[3.93,16800],[5.97,32900],[8.02,52700],[10.06,66900],[11.9,70300],[13.0,66800]];
const phaRedFit=[[0.57,1860],[2.34,4330],[3.93,8500],[5.97,16800],[8.02,28700],[10.06,35900],[11.9,38900],[13.0,37800]];

// ---------- layout (pixel geometry, not data) ----------
const panels=[
 {blue:alcBlue,red:alcRed,bf:alcBlueFit,rf:alcRedFit,xt:alcXTicks,xf:d3.format(".1f"),yt:alcYTicks,
  box:[46,252.3,29.7,220.3],xRef:[1,3],xPix:[55,250],yRef:[50,8000],yPix:[217.7,37.7],ylx:11.7,leg:[74,94.3,192.3,206,100]},
 {blue:cd4Blue.concat(cd4BlueMore),red:cd4Red.concat(cd4RedMore),bf:cd4BlueFit,rf:cd4RedFit,xt:monthTicks,xf:d3.format("d"),yt:cd4YTicks,
  box:[316,522.7,29.7,220.3],xRef:[0,12],xPix:[319.3,499],yRef:[0,5000],yPix:[214.3,36.7],ylx:278.6,leg:[463.3,483.3,184.3,199.3,488.3]},
 {blue:cd8Blue.concat(cd8BlueMore),red:cd8Red.concat(cd8RedMore),bf:cd8BlueFit,rf:cd8RedFit,xt:monthTicks,xf:d3.format("d"),yt:cd8YTicks,
  box:[586.7,795,29.7,220.3],xRef:[0,12],xPix:[589.7,769],yRef:[0,5000],yPix:[214.3,37.3],ylx:552,leg:[731.7,748.3,183,194,755]},
 {blue:nkBlue.concat(nkBlueMore),red:nkRed.concat(nkRedMore),bf:nkBlueFit,rf:nkRedFit,xt:monthTicks,xf:d3.format("d"),yt:nkYTicks,
  box:[46,253.3,317.3,509],xRef:[0,12],xPix:[49.3,229.3],yRef:[0,3000],yPix:[501.3,323.7],ylx:11.7,leg:[191.7,208.3,467.7,477.7,215]},
 {blue:naiveBlue,red:naiveRed,bf:naiveBlueFit,rf:naiveRedFit,xt:monthTicks,xf:d3.format("d"),yt:naiveYTicks,
  box:[315,523.3,317.3,509],xRef:[0,12],xPix:[324.3,500.3],yRef:[0,1000],yPix:[501.3,326.7],ylx:281.5,leg:[464.3,484.3,460.3,473,487.7]},
 {blue:phaBlue.concat(phaBlueMore),red:phaRed.concat(phaRedMore),bf:phaBlueFit,rf:phaRedFit,xt:monthTicks,xf:d3.format("d"),yt:phaYTicks,ytl:phaYTickLabels,
  box:[587.3,795,317.3,509],xRef:[0,12],xPix:[595.7,771.7],yRef:[50,400000],yPix:[503.7,326.3],ylx:552,leg:[734.3,750.7,472.7,483.3,757.7]}
];

const svg=d3.select("#c");
svg.append("rect").attr("width",800).attr("height",556).attr("fill","#fff");
const BLUE="#0000ff",RED="#ff0000",AX="#555",TXT="#1a1a1a";

panels.forEach((p,i)=>{
  const x=d3.scaleLinear().domain(p.xRef).range(p.xPix);
  const y=d3.scaleSymlog().constant(1).domain(p.yRef).range(p.yPix);
  const [bx0,bx1,by0,by1]=p.box;
  const cx=(bx0+bx1)/2, cy=(by0+by1)/2;
  const g=svg.append("g");
  const cid="clip"+i;
  svg.append("clipPath").attr("id",cid).append("rect").attr("x",bx0).attr("y",by0).attr("width",bx1-bx0).attr("height",by1-by0);
  g.append("line").attr("x1",bx0).attr("x2",bx1).attr("y1",y(refValues[i])).attr("y2",y(refValues[i]))
   .attr("stroke","#c4c4c4").attr("stroke-width",2);
  const pg=g.append("g").attr("clip-path",`url(#${cid})`);
  pg.selectAll("circle.b").data(p.blue).join("circle").attr("class","b")
    .attr("cx",d=>x(d[0])).attr("cy",d=>y(d[1])).attr("r",1.3).attr("fill",BLUE);
  pg.selectAll("circle.r").data(p.red).join("circle").attr("class","r")
    .attr("cx",d=>x(d[0])).attr("cy",d=>y(d[1])).attr("r",1.3).attr("fill",RED);
  const line=d3.line().x(d=>x(d[0])).y(d=>y(d[1])).curve(d3.curveMonotoneX);
  pg.append("path").attr("d",line(p.bf)).attr("fill","none").attr("stroke",BLUE).attr("stroke-width",2.4);
  pg.append("path").attr("d",line(p.rf)).attr("fill","none").attr("stroke",RED).attr("stroke-width",2.4);
  g.append("rect").attr("x",bx0).attr("y",by0).attr("width",bx1-bx0).attr("height",by1-by0)
   .attr("fill","none").attr("stroke",AX).attr("stroke-width",1.3);
  const xa=g.append("g").attr("transform",`translate(0,${by1})`)
    .call(d3.axisBottom(x).tickValues(p.xt).tickFormat(p.xf).tickSize(5.7).tickPadding(8.3));
  xa.select(".domain").remove();
  xa.selectAll("line").attr("stroke",AX).attr("stroke-width",1.1);
  xa.selectAll("text").attr("font-size","10.3px").attr("fill",TXT).attr("font-family","Liberation Sans, Arial, sans-serif");
  const ya=g.append("g").attr("transform",`translate(${bx0},0)`)
    .call(d3.axisLeft(y).tickValues(p.yt).tickFormat((d,k)=>p.ytl?p.ytl[k]:String(d)).tickSize(6).tickPadding(3.3));
  ya.select(".domain").remove();
  ya.selectAll("line").attr("stroke",AX).attr("stroke-width",1.1);
  ya.selectAll("text").attr("font-size","8.6px").attr("fill",TXT).attr("font-family","Liberation Sans, Arial, sans-serif");
  g.append("text").attr("x",cx).attr("y",by0-14.9).attr("text-anchor","middle")
    .attr("font-weight","bold").attr("font-size","10.8px").attr("fill",TXT).text(titles[i]);
  g.append("text").attr("x",cx).attr("y",by1+42.3).attr("text-anchor","middle")
    .attr("font-size","12px").attr("fill",TXT).text(xLabel);
  g.append("text").attr("transform",`translate(${p.ylx+4.4},${cy}) rotate(-90)`).attr("text-anchor","middle")
    .attr("font-size","12.5px").attr("fill",TXT).text(yLabels[i]);
  const [lx0,lx1,ly0,ly1,tx]=p.leg;
  [[ly0,BLUE],[ly1,RED]].forEach(([ly,col],k)=>{
    g.append("line").attr("x1",lx0).attr("x2",lx1).attr("y1",ly).attr("y2",ly).attr("stroke",col).attr("stroke-width",2.4);
    g.append("text").attr("x",tx).attr("y",ly+3).attr("font-size","8.6px").attr("fill",TXT).text(legendLabels[k]);
  });
});
</script></body></html>
